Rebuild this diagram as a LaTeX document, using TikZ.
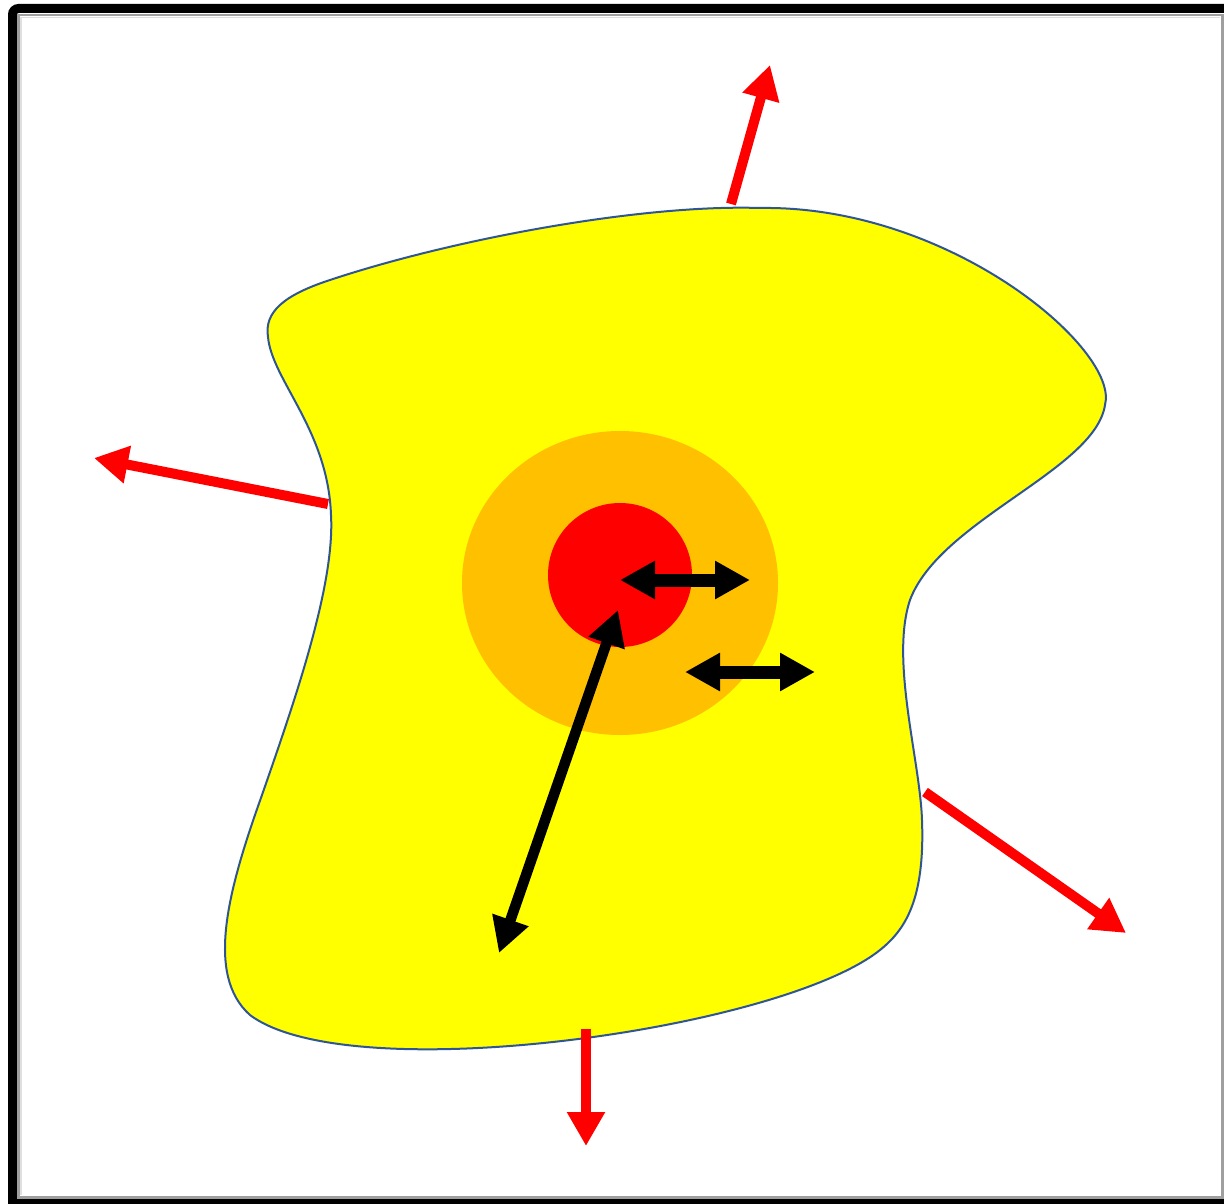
\documentclass[tikz,border=0pt]{standalone}
\usetikzlibrary{arrows.meta}
\definecolor{blobyellow}{HTML}{FFFF00}
\definecolor{blobline}{HTML}{2F5597}
\definecolor{ringorange}{HTML}{FFC000}
\definecolor{corered}{HTML}{FF0000}
\tikzset{
  redarrow/.style={draw=corered, line width=10pt, -{Triangle[length=34pt,width=36pt]}},
  blackdouble/.style={draw=black, line width=13pt, {Triangle[length=35pt,width=36pt]}-{Triangle[length=35pt,width=36pt]}},
  blacklong/.style={draw=black, line width=10.5pt, {Triangle[length=35pt,width=36pt]}-{Triangle[length=35pt,width=36pt]}},
}
\begin{document}
\begin{tikzpicture}[x=1pt,y=-1pt]
\useasboundingbox (0,0) rectangle (1224,1204);
% frame
\fill[white] (0,0) rectangle (1224,1204);
\draw[line width=9pt, rounded corners=6pt] (12.5,1215) -- (12.5,8.5) -- (1235,8.5);
\draw[line width=6pt] (8,1202) -- (1235,1202);
\draw[gray!75, line width=2.5pt] (18.5,1197.5) -- (18.5,15) -- (1222.5,15) -- (1222.5,1197.5) -- cycle;
\draw[gray!25, line width=1.5pt] (21,1195) -- (21,17.5) -- (1220,17.5);
% blob
\draw[fill=blobyellow, draw=blobline, line width=2pt]
  (268,337) .. controls (264,312) and (284,295) .. (330,280)
  .. controls (450,240) and (640,204) .. (760,208)
  .. controls (950,205) and (1120,350) .. (1105,405)
  .. controls (1095,470) and (940,520) .. (910,600)
  .. controls (890,660) and (920,760) .. (922,820)
  .. controls (925,900) and (905,930) .. (880,950)
  .. controls (780,1030) and (350,1090) .. (250,1015)
  .. controls (205,975) and (228,890) .. (262,795)
  .. controls (295,700) and (335,585) .. (331,515)
  .. controls (328,430) and (272,380) .. (268,337) -- cycle;
% rings
\fill[ringorange] (620,583) ellipse [x radius=158, y radius=152];
\fill[corered] (620,575) circle [radius=72];
% coordinates
\coordinate (a1s) at (620,580);
\coordinate (a1e) at (750,580);
\coordinate (a2s) at (685,672);
\coordinate (a2e) at (815,672);
\coordinate (a3s) at (618,610);
\coordinate (a3e) at (499,953);
\coordinate (rtS) at (731,204);
\coordinate (rtE) at (770,65);
\coordinate (rlS) at (328,504);
\coordinate (rlE) at (94,458);
\coordinate (rrS) at (925,792);
\coordinate (rrE) at (1126,933);
\coordinate (rbS) at (586,1029);
\coordinate (rbE) at (586,1146);
% black arrows
\draw[blackdouble] (a1s) -- (a1e);
\draw[blackdouble] (a2s) -- (a2e);
\draw[blacklong] (a3s) -- (a3e);
% red arrows
\draw[redarrow] (rtS) -- (rtE);
\draw[redarrow] (rlS) -- (rlE);
\draw[redarrow] (rrS) -- (rrE);
\draw[redarrow] (rbS) -- (rbE);
\end{tikzpicture}
\end{document}
